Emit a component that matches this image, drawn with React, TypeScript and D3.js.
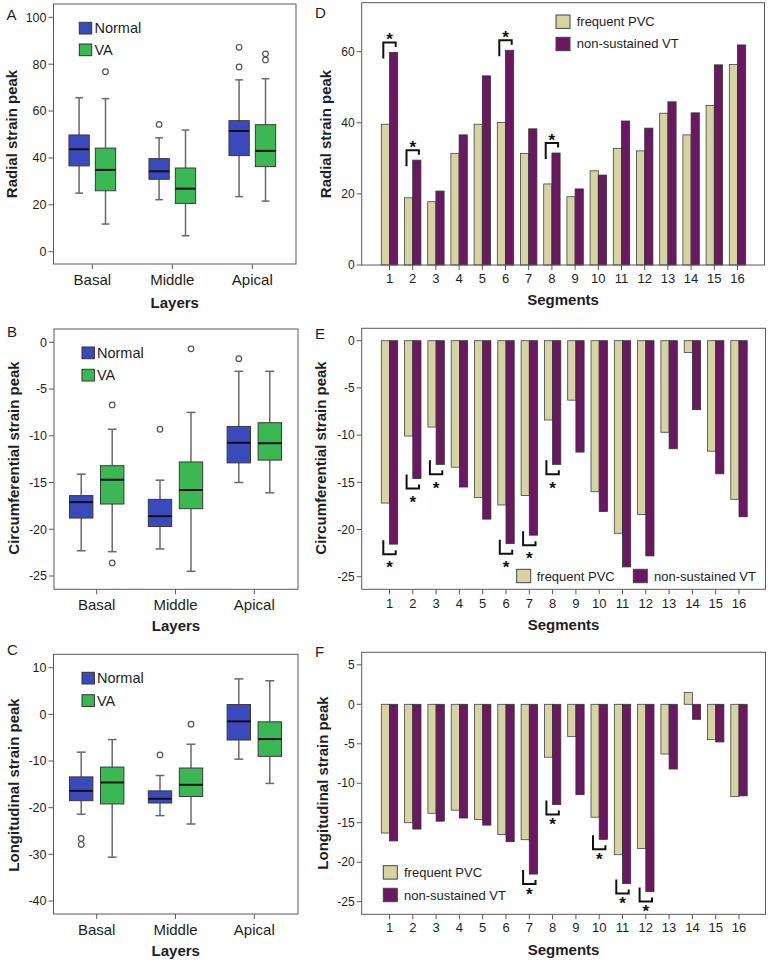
import React from "react";
import * as d3 from "d3";

// ---------- DATA ----------
const layers = ["Basal", "Middle", "Apical"];
const segments = ["1", "2", "3", "4", "5", "6", "7", "8", "9", "10", "11", "12", "13", "14", "15", "16"];
const boxSeries = ["Normal", "VA"];
const barSeries = ["frequent PVC", "non-sustained VT"];

// box stats: [lowerWhisker, Q1, median, Q3, upperWhisker]
const radialNormal = [[25.0, 36.6, 43.7, 49.8, 65.7], [22.2, 30.9, 34.3, 39.7, 48.6], [23.5, 41.0, 51.5, 55.9, 73.3]];
const radialNormalOut = [[], [54.3], [87.2, 78.8]];
const radialVA = [[11.8, 26.0, 34.9, 44.2, 65.3], [6.8, 20.6, 26.9, 35.7, 51.9], [21.6, 36.3, 43.0, 54.2, 73.8]];
const radialVAOut = [[76.8], [], [84.4, 81.8]];

const circNormal = [[-22.3, -18.8, -17.1, -16.4, -14.1], [-22.1, -19.7, -18.6, -16.8, -14.75], [-15.0, -12.9, -10.75, -9.0, -3.1]];
const circNormalOut = [[], [-9.3], [-1.75]];
const circVA = [[-22.4, -17.3, -14.7, -13.2, -9.3], [-24.5, -17.8, -15.8, -12.8, -7.5], [-16.1, -12.6, -10.8, -8.6, -3.1]];
const circVAOut = [[-6.7, -23.6], [-0.7], []];

const longNormal = [[-21.4, -18.5, -16.4, -13.4, -8.1], [-21.7, -19.0, -18.1, -16.4, -13.1], [-9.6, -5.5, -1.5, 2.1, 7.6]];
const longNormalOut = [[-26.6, -27.9], [-8.7], []];
const longVA = [[-30.6, -19.2, -14.6, -11.3, -5.4], [-23.5, -17.6, -15.1, -11.5, -6.4], [-14.8, -9.0, -5.3, -1.6, 7.2]];
const longVAOut = [[], [-2.1], []];

const radialPVC = [39.6, 18.9, 17.8, 31.4, 39.6, 40.1, 31.4, 22.8, 19.2, 26.5, 32.8, 32.1, 42.7, 36.6, 44.9, 56.4];
const radialVT = [59.8, 29.5, 20.8, 36.6, 53.2, 60.4, 38.3, 31.5, 21.4, 25.3, 40.5, 38.5, 45.9, 42.8, 56.3, 61.9];
const radialSig = ["1", "2", "6", "8"];

const circPVC = [-17.2, -10.1, -9.15, -13.4, -16.6, -17.4, -16.4, -8.4, -6.3, -16.0, -20.4, -18.4, -9.7, -1.24, -11.7, -16.8];
const circVT = [-21.55, -14.6, -13.1, -15.5, -18.9, -21.5, -20.6, -13.1, -11.8, -18.1, -23.96, -22.8, -11.45, -7.3, -14.1, -18.65];
const circSig = ["1", "2", "3", "6", "7", "8"];

const longPVC = [-16.3, -15.0, -13.8, -13.4, -14.6, -16.5, -17.15, -6.7, -4.1, -14.3, -19.05, -18.25, -6.3, 1.48, -4.48, -11.7];
const longVT = [-17.3, -15.8, -14.8, -14.4, -15.3, -17.4, -21.5, -12.7, -11.45, -17.1, -22.7, -23.7, -8.2, -1.9, -4.77, -11.6];
const longSig = ["7", "8", "10", "11", "12"];

const radialBoxTicks = [0, 20, 40, 60, 80, 100];
const circBoxTicks = [0, -5, -10, -15, -20, -25];
const longBoxTicks = [10, 0, -10, -20, -30, -40];
const radialBarTicks = [0, 20, 40, 60];
const circBarTicks = [0, -5, -10, -15, -20, -25];
const longBarTicks = [5, 0, -5, -10, -15, -20, -25];

// ---------- STYLE ----------
const FONT = '"Liberation Sans", Arial, Helvetica, sans-serif';
const TXT = "#1e1e1e";
const FRAME = "#5a5a5a";
const BLUE = "#3a4abd";
const GREEN = "#3bb754";
const PVC = "#d6d4a3";
const VT = "#6b1863";

type Frame = { l: number; r: number; t: number; b: number };

type BoxCfg = {
  letter: string;
  title: string;
  frame: Frame;
  ticks: number[];
  dom: [number, number];
  rng: [number, number];
  xRange: [number, number];
  offset: number;
  boxW: number;
  catY: number;
  titleY: number;
  yTitle: [number, number];
  letterPos: [number, number];
  legend: { x: number; y: number[]; textX: number };
  normal: number[][];
  normalOut: number[][];
  va: number[][];
  vaOut: number[][];
};

function BoxPanel({ c }: { c: BoxCfg }) {
  const y = d3.scaleLinear().domain(c.dom).range(c.rng);
  const x = d3.scalePoint<string>().domain(layers).range(c.xRange);
  const f = c.frame;
  const groups = [
    { stats: c.normal, out: c.normalOut, dx: -c.offset, fill: BLUE },
    { stats: c.va, out: c.vaOut, dx: c.offset, fill: GREEN },
  ];
  return (
    <g>
      <rect x={f.l} y={f.t} width={f.r - f.l} height={f.b - f.t} fill="#fff" />
      {c.ticks.map((t) => (
        <g key={t}>
          <line x1={f.l - 5} x2={f.l} y1={y(t)} y2={y(t)} stroke={FRAME} strokeWidth={1} />
          <text x={f.l - 7} y={y(t)} dy="0.35em" textAnchor="end" fontSize={12.5} fill={TXT}>
            {t}
          </text>
        </g>
      ))}
      {layers.map((l) => (
        <g key={l}>
          <line x1={x(l)} x2={x(l)} y1={f.b} y2={f.b + 5} stroke={FRAME} strokeWidth={1} />
          <text x={x(l)} y={c.catY} textAnchor="middle" fontSize={15} fill={TXT}>
            {l}
          </text>
        </g>
      ))}
      {groups.map((g, gi) =>
        layers.map((l, i) => {
          const [lo, q1, med, q3, hi] = g.stats[i];
          const cx = (x(l) as number) + g.dx;
          const hw = c.boxW / 2;
          const cap = c.boxW * 0.19;
          return (
            <g key={gi + l}>
              <line x1={cx} x2={cx} y1={y(hi)} y2={y(q3)} stroke="#6a6a6a" strokeWidth={1.5} />
              <line x1={cx} x2={cx} y1={y(q1)} y2={y(lo)} stroke="#6a6a6a" strokeWidth={1.5} />
              <line x1={cx - cap} x2={cx + cap} y1={y(hi)} y2={y(hi)} stroke="#6a6a6a" strokeWidth={1.5} />
              <line x1={cx - cap} x2={cx + cap} y1={y(lo)} y2={y(lo)} stroke="#6a6a6a" strokeWidth={1.5} />
              <rect x={cx - hw} y={y(q3)} width={c.boxW} height={y(q1) - y(q3)} fill={g.fill} stroke="#3a3a3a" strokeWidth={1} />
              <line x1={cx - hw} x2={cx + hw} y1={y(med)} y2={y(med)} stroke="#111" strokeWidth={2} />
              {g.out[i].map((o, k) => (
                <circle key={k} cx={cx} cy={y(o)} r={2.8} fill="#fff" stroke="#555" strokeWidth={1.2} />
              ))}
            </g>
          );
        })
      )}
      {boxSeries.map((s, i) => (
        <g key={s}>
          <rect x={c.legend.x} y={c.legend.y[i]} width={12.4} height={11.7} fill={i === 0 ? BLUE : GREEN} stroke="#333" strokeWidth={1} />
          <text x={c.legend.textX} y={c.legend.y[i] + 10.8} fontSize={14.5} fill={TXT}>
            {s}
          </text>
        </g>
      ))}
      <rect x={f.l} y={f.t} width={f.r - f.l} height={f.b - f.t} fill="none" stroke={FRAME} strokeWidth={1} />
      <text x={(f.l + f.r) / 2} y={c.titleY} textAnchor="middle" fontSize={15} fontWeight="bold" fill={TXT}>
        Layers
      </text>
      <text
        transform={`translate(${c.yTitle[0]},${c.yTitle[1]}) rotate(-90)`}
        dy="0.35em"
        textAnchor="middle"
        fontSize={15}
        fontWeight="bold"
        fill={TXT}
      >
        {c.title}
      </text>
      <text x={c.letterPos[0]} y={c.letterPos[1]} fontSize={15} fill={TXT}>
        {c.letter}
      </text>
    </g>
  );
}

type BarCfg = {
  letter: string;
  title: string;
  frame: Frame;
  ticks: number[];
  dom: [number, number];
  rng: [number, number];
  xRange: [number, number];
  catY: number;
  titleY: number;
  yTitle: [number, number];
  letterPos: [number, number];
  legend: { sw: [number, number][]; text: [number, number][] };
  pvc: number[];
  vt: number[];
  sig: string[];
  above: boolean;
  starGap: number;
};

function BarPanel({ c }: { c: BarCfg }) {
  const y = d3.scaleLinear().domain(c.dom).range(c.rng);
  const x = d3.scalePoint<string>().domain(segments).range(c.xRange);
  const f = c.frame;
  const bw = 8.2;
  const y0 = y(0);
  return (
    <g>
      <rect x={f.l} y={f.t} width={f.r - f.l} height={f.b - f.t} fill="#fff" />
      {c.ticks.map((t) => (
        <g key={t}>
          <line x1={f.l - 5} x2={f.l} y1={y(t)} y2={y(t)} stroke={FRAME} strokeWidth={1} />
          <text x={f.l - 7} y={y(t)} dy="0.35em" textAnchor="end" fontSize={12} fill={TXT}>
            {t}
          </text>
        </g>
      ))}
      {segments.map((s, i) => {
        const cx = x(s) as number;
        const yp = y(c.pvc[i]);
        const yv = y(c.vt[i]);
        return (
          <g key={s}>
            <line x1={cx} x2={cx} y1={f.b} y2={f.b + 5} stroke={FRAME} strokeWidth={1} />
            <text x={cx} y={c.catY} textAnchor="middle" fontSize={13} fill={TXT}>
              {s}
            </text>
            <rect x={cx - bw} y={Math.min(y0, yp)} width={bw} height={Math.abs(yp - y0)} fill={PVC} stroke="#444" strokeWidth={0.8} />
            <rect x={cx} y={Math.min(y0, yv)} width={bw} height={Math.abs(yv - y0)} fill={VT} stroke="#333" strokeWidth={0.8} />
          </g>
        );
      })}
      {c.sig.map((s) => {
        const i = segments.indexOf(s);
        const cx = x(s) as number;
        const xl = cx - 6.2;
        const xr = cx + 6.2;
        const yv = y(c.vt[i]);
        if (c.above) {
          const yt = yv - 10;
          return (
            <g key={s}>
              <path d={`M${xl},${yt + 16}V${yt}H${xr}V${yt + 4.5}`} fill="none" stroke="#111" strokeWidth={2} />
              <text x={cx} y={yt - c.starGap + 9.7} textAnchor="middle" fontSize={17} fontWeight="bold" fill="#111">
                *
              </text>
            </g>
          );
        }
        const yb = yv + 10;
        return (
          <g key={s}>
            <path d={`M${xl},${yb - 14}V${yb}H${xr}V${yb - 4}`} fill="none" stroke="#111" strokeWidth={2} />
            <text x={cx} y={yb + c.starGap + 9.7} textAnchor="middle" fontSize={17} fontWeight="bold" fill="#111">
              *
            </text>
          </g>
        );
      })}
      {barSeries.map((s, i) => (
        <g key={s}>
          <rect x={c.legend.sw[i][0]} y={c.legend.sw[i][1]} width={14} height={13.4} fill={i === 0 ? PVC : VT} stroke="#444" strokeWidth={1} />
          <text x={c.legend.text[i][0]} y={c.legend.text[i][1]} fontSize={13} fill={TXT}>
            {s}
          </text>
        </g>
      ))}
      <rect x={f.l} y={f.t} width={f.r - f.l} height={f.b - f.t} fill="none" stroke={FRAME} strokeWidth={1} />
      <text x={(f.l + f.r) / 2} y={c.titleY} textAnchor="middle" fontSize={15} fontWeight="bold" fill={TXT}>
        Segments
      </text>
      <text
        transform={`translate(${c.yTitle[0]},${c.yTitle[1]}) rotate(-90)`}
        dy="0.35em"
        textAnchor="middle"
        fontSize={15}
        fontWeight="bold"
        fill={TXT}
      >
        {c.title}
      </text>
      <text x={c.letterPos[0]} y={c.letterPos[1]} fontSize={15} fill={TXT}>
        {c.letter}
      </text>
    </g>
  );
}

const boxPanels: BoxCfg[] = [
  {
    letter: "A", title: "Radial strain peak",
    frame: { l: 53.5, r: 296, t: 4, b: 264 },
    ticks: radialBoxTicks, dom: [0, 100], rng: [251.7, 17.3],
    xRange: [92.3, 252.3], offset: 13.2, boxW: 20.3,
    catY: 284.5, titleY: 308.4, yTitle: [11.5, 134], letterPos: [6.5, 19.5],
    legend: { x: 79.3, y: [22.3, 44], textX: 94.5 },
    normal: radialNormal, normalOut: radialNormalOut, va: radialVA, vaOut: radialVAOut,
  },
  {
    letter: "B", title: "Circumferential strain peak",
    frame: { l: 54, r: 298, t: 329, b: 589.3 },
    ticks: circBoxTicks, dom: [0, -25], rng: [342.3, 576],
    xRange: [96.7, 254.3], offset: 15.5, boxW: 23.4,
    catY: 610, titleY: 631, yTitle: [14, 458], letterPos: [7, 337],
    legend: { x: 82, y: [347, 369.3], textX: 97 },
    normal: circNormal, normalOut: circNormalOut, va: circVA, vaOut: circVAOut,
  },
  {
    letter: "C", title: "Longitudinal strain peak",
    frame: { l: 53.5, r: 298, t: 654.3, b: 914 },
    ticks: longBoxTicks, dom: [10, -40], rng: [667.7, 901],
    xRange: [96.7, 254.3], offset: 15.5, boxW: 23.4,
    catY: 935.4, titleY: 956.4, yTitle: [14, 785], letterPos: [7, 655],
    legend: { x: 82, y: [672.3, 694.7], textX: 97 },
    normal: longNormal, normalOut: longNormalOut, va: longVA, vaOut: longVAOut,
  },
];

const barPanels: BarCfg[] = [
  {
    letter: "D", title: "Radial strain peak",
    frame: { l: 361.7, r: 764.5, t: 2.7, b: 265 },
    ticks: radialBarTicks, dom: [0, 60], rng: [265, 51.7],
    xRange: [389.5, 737.5], catY: 283.3, titleY: 305, yTitle: [326, 134], letterPos: [315, 17.5],
    legend: { sw: [[556, 15], [556, 37.3]], text: [[576.7, 26], [576.7, 48.3]] },
    pvc: radialPVC, vt: radialVT, sig: radialSig, above: true, starGap: 7,
  },
  {
    letter: "E", title: "Circumferential strain peak",
    frame: { l: 361.7, r: 765.5, t: 328.3, b: 589.3 },
    ticks: circBarTicks, dom: [0, -25], rng: [340.7, 576.7],
    xRange: [389.5, 739], catY: 607.8, titleY: 629.7, yTitle: [321, 458], letterPos: [315, 339],
    legend: { sw: [[516.7, 569.3], [633.3, 569.3]], text: [[536.7, 580.5], [654, 580.5]] },
    pvc: circPVC, vt: circVT, sig: circSig, above: false, starGap: 9.5,
  },
  {
    letter: "F", title: "Longitudinal strain peak",
    frame: { l: 361.7, r: 765.5, t: 652.3, b: 914.3 },
    ticks: longBarTicks, dom: [0, -25], rng: [704.3, 901.7],
    xRange: [389.5, 739], catY: 931.5, titleY: 955, yTitle: [322.5, 783], letterPos: [315, 657],
    legend: { sw: [[383.3, 865.7], [383.3, 888.3]], text: [[404, 877], [404, 899.6]] },
    pvc: longPVC, vt: longVT, sig: longSig, above: false, starGap: 6,
  },
];

export default function App() {
  return (
    <svg
      width={770}
      height={963}
      viewBox="0 0 770 963"
      style={{ position: "absolute", left: 0, top: 0, background: "#fff", fontFamily: FONT }}
    >
      <rect x={0} y={0} width={770} height={963} fill="#fff" />
      {boxPanels.map((c) => (
        <BoxPanel key={c.letter} c={c} />
      ))}
      {barPanels.map((c) => (
        <BarPanel key={c.letter} c={c} />
      ))}
    </svg>
  );
}
